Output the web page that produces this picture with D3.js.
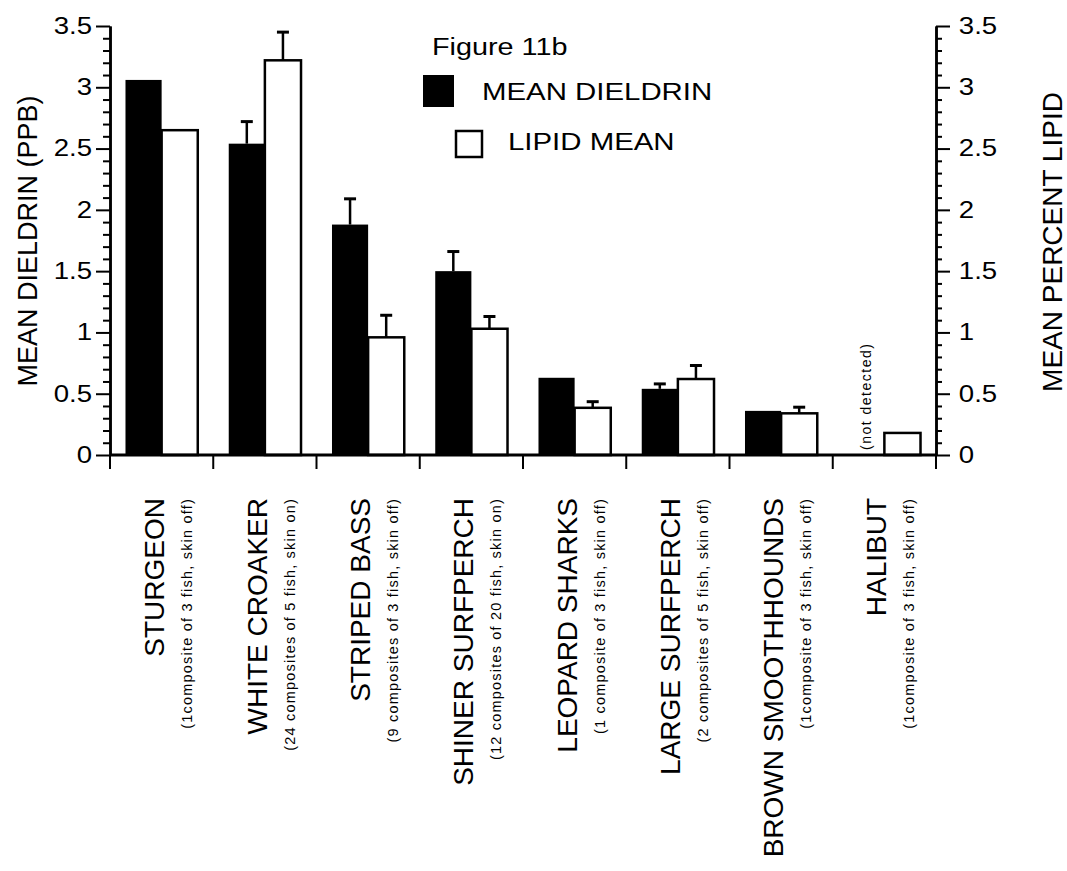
<!DOCTYPE html>
<html>
<head>
<meta charset="utf-8">
<script src="https://cdn.jsdelivr.net/npm/d3@7"></script>
<style>
  body { margin: 0; background: #fff; }
  text { font-family: 'Liberation Sans', Arial, sans-serif; fill: #000; }
</style>
</head>
<body>
<div id="chart"></div>
<script>
let species = [
  'STURGEON',
  'WHITE CROAKER',
  'STRIPED BASS',
  'SHINER SURFPERCH',
  'LEOPARD SHARKS',
  'LARGE SURFPERCH',
  'BROWN SMOOTHHOUNDS',
  'HALIBUT'
]
let samples = [
  '(1composite of 3 fish, skin off)',
  '(24 composites of 5 fish, skin on)',
  '(9 composites of 3 fish, skin off)',
  '(12 composites of 20 fish, skin on)',
  '(1 composite of 3 fish, skin off)',
  '(2 composites of 5 fish, skin off)',
  '(1composite of 3 fish, skin off)',
  '(1composite of 3 fish, skin off)'
]
// mean dieldrin (ppb), null = not detected
let dieldrin = [3.06, 2.54, 1.88, 1.5, 0.63, 0.54, 0.36, null]
let dieldrinErr = [0, 0.18, 0.21, 0.16, 0, 0.04, 0, 0]
// mean percent lipid
let lipid = [2.65, 3.22, 0.96, 1.03, 0.385, 0.62, 0.34, 0.18]
let lipidErr = [0, 0.23, 0.18, 0.1, 0.05, 0.11, 0.05, 0]

let yTicks = [0, 0.5, 1, 1.5, 2, 2.5, 3, 3.5]
let yMinorTicks = [0.1, 0.2, 0.3, 0.4, 0.6, 0.7, 0.8, 0.9, 1.1, 1.2, 1.3, 1.4,
  1.6, 1.7, 1.8, 1.9, 2.1, 2.2, 2.3, 2.4, 2.6, 2.7, 2.8, 2.9, 3.1, 3.2, 3.3, 3.4]

let width = 1067
let height = 871
let stretch = 1.2

let svg = d3
  .select('#chart')
  .append('svg')
  .attr('width', width)
  .attr('height', height)

let xPositionScale = d3.scaleBand().domain(species).range([110, 936])
let yLeftScale = d3.scaleLinear().domain([0, 3.5]).range([455, 26])
let yRightScale = d3.scaleLinear().domain([0, 3.5]).range([455, 26])

let band = xPositionScale.bandwidth()
let barWidth = band * 0.35

let rows = species.map((d, i) => {
  return {
    name: d,
    sample: samples[i],
    dieldrin: dieldrin[i],
    dieldrinErr: dieldrinErr[i],
    lipid: lipid[i],
    lipidErr: lipidErr[i],
    center: xPositionScale(d) + band / 2
  }
})

// bars
svg
  .selectAll('.dieldrin-bar')
  .data(rows.filter(d => d.dieldrin !== null))
  .enter()
  .append('rect')
  .attr('class', 'dieldrin-bar')
  .attr('x', d => d.center - barWidth)
  .attr('y', d => yLeftScale(d.dieldrin))
  .attr('width', barWidth)
  .attr('height', d => yLeftScale(0) - yLeftScale(d.dieldrin))
  .attr('fill', '#000')

svg
  .selectAll('.lipid-bar')
  .data(rows)
  .enter()
  .append('rect')
  .attr('class', 'lipid-bar')
  .attr('x', d => d.center)
  .attr('y', d => yRightScale(d.lipid))
  .attr('width', barWidth)
  .attr('height', d => yRightScale(0) - yRightScale(d.lipid))
  .attr('fill', '#fff')
  .attr('stroke', '#000')
  .attr('stroke-width', 2.5)

// error bars
let errors = []
rows.forEach(d => {
  if (d.dieldrinErr > 0) {
    errors.push({ x: d.center - barWidth / 2, y0: yLeftScale(d.dieldrin), y1: yLeftScale(d.dieldrin + d.dieldrinErr) })
  }
  if (d.lipidErr > 0) {
    errors.push({ x: d.center + barWidth / 2, y0: yRightScale(d.lipid), y1: yRightScale(d.lipid + d.lipidErr) })
  }
})

svg
  .selectAll('.err-line')
  .data(errors)
  .enter()
  .append('line')
  .attr('x1', d => d.x)
  .attr('x2', d => d.x)
  .attr('y1', d => d.y0)
  .attr('y2', d => d.y1)
  .attr('stroke', '#000')
  .attr('stroke-width', 2.5)

svg
  .selectAll('.err-cap')
  .data(errors)
  .enter()
  .append('line')
  .attr('x1', d => d.x - 6)
  .attr('x2', d => d.x + 6)
  .attr('y1', d => d.y1)
  .attr('y2', d => d.y1)
  .attr('stroke', '#000')
  .attr('stroke-width', 3)

// left axis
svg
  .append('g')
  .attr('class', 'axis')
  .attr('transform', 'translate(110,0)')
  .call(d3.axisLeft(yLeftScale).tickValues(yMinorTicks).tickSize(7).tickSizeOuter(0).tickFormat(''))

svg
  .append('g')
  .attr('class', 'axis y-left')
  .attr('transform', 'translate(110,0)')
  .call(d3.axisLeft(yLeftScale).tickValues(yTicks).tickSize(14).tickSizeOuter(0).tickPadding(1).tickFormat(d3.format('')))

// right axis
svg
  .append('g')
  .attr('class', 'axis')
  .attr('transform', 'translate(936,0)')
  .call(d3.axisRight(yRightScale).tickValues(yMinorTicks).tickSize(6).tickSizeOuter(0).tickFormat(''))

svg
  .append('g')
  .attr('class', 'axis y-right')
  .attr('transform', 'translate(936,0)')
  .call(d3.axisRight(yRightScale).tickValues(yTicks).tickSize(14).tickSizeOuter(0).tickPadding(5).tickFormat(d3.format('')))

svg.selectAll('.axis path').attr('stroke', '#000').attr('stroke-width', 2.5)
svg.selectAll('.axis line').attr('stroke', '#000').attr('stroke-width', 2)
svg
  .selectAll('.y-left text, .y-right text')
  .attr('font-size', 23)
  .attr('font-family', "'Liberation Sans', Arial, sans-serif")
  .attr('transform', 'scale(' + stretch + ',1)')

// x axis with ticks on the category edges
let edges = species.map(d => xPositionScale(d)).concat([xPositionScale.range()[1]])
let xAxis = svg.append('g').attr('class', 'x-axis')
xAxis
  .append('line')
  .attr('x1', xPositionScale.range()[0])
  .attr('x2', xPositionScale.range()[1])
  .attr('y1', yLeftScale(0))
  .attr('y2', yLeftScale(0))
  .attr('stroke', '#000')
  .attr('stroke-width', 3)
xAxis
  .selectAll('.x-tick')
  .data(edges)
  .enter()
  .append('line')
  .attr('x1', d => d)
  .attr('x2', d => d)
  .attr('y1', yLeftScale(0))
  .attr('y2', yLeftScale(0) + 14)
  .attr('stroke', '#000')
  .attr('stroke-width', 2)

// category labels
svg
  .selectAll('.species-label')
  .data(rows)
  .enter()
  .append('text')
  .attr('class', 'species-label')
  .attr('transform', d => 'translate(' + (d.center + 2) + ',498) rotate(-90)')
  .attr('text-anchor', 'end')
  .attr('font-size', 28)
  .text(d => d.name)

svg
  .selectAll('.sample-label')
  .data(rows)
  .enter()
  .append('text')
  .attr('class', 'sample-label')
  .attr('transform', d => 'translate(' + (d.center + 30) + ',498) rotate(-90)')
  .attr('text-anchor', 'end')
  .attr('font-size', 14.5)
  .attr('letter-spacing', 1.2)
  .text(d => d.sample)

// not detected note
svg
  .selectAll('.nd-label')
  .data(rows.filter(d => d.dieldrin === null))
  .enter()
  .append('text')
  .attr('class', 'nd-label')
  .attr('transform', d => 'translate(' + (d.center - barWidth / 2 + 5) + ',450) rotate(-90)')
  .attr('font-size', 14)
  .attr('letter-spacing', 1.5)
  .text('(not detected)')

// axis titles
svg
  .append('text')
  .attr('transform', 'translate(37,241) rotate(-90)')
  .attr('text-anchor', 'middle')
  .attr('font-size', 27)
  .text('MEAN DIELDRIN (PPB)')

svg
  .append('text')
  .attr('transform', 'translate(1062,242) rotate(-90)')
  .attr('text-anchor', 'middle')
  .attr('font-size', 28)
  .text('MEAN PERCENT LIPID')

// legend
let legend = svg.append('g').attr('class', 'legend')
legend
  .append('text')
  .attr('transform', 'translate(432,55) scale(' + stretch + ',1)')
  .attr('font-size', 24)
  .text('Figure 11b')
legend
  .append('rect')
  .attr('x', 423)
  .attr('y', 75)
  .attr('width', 31)
  .attr('height', 32)
  .attr('fill', '#000')
legend
  .append('text')
  .attr('transform', 'translate(482,100) scale(' + stretch + ',1)')
  .attr('font-size', 24.5)
  .text('MEAN DIELDRIN')
legend
  .append('rect')
  .attr('x', 456)
  .attr('y', 131)
  .attr('width', 26)
  .attr('height', 26)
  .attr('fill', '#fff')
  .attr('stroke', '#000')
  .attr('stroke-width', 2.5)
legend
  .append('text')
  .attr('transform', 'translate(508,150) scale(' + stretch + ',1)')
  .attr('font-size', 24.5)
  .text('LIPID MEAN')
</script>
</body>
</html>
